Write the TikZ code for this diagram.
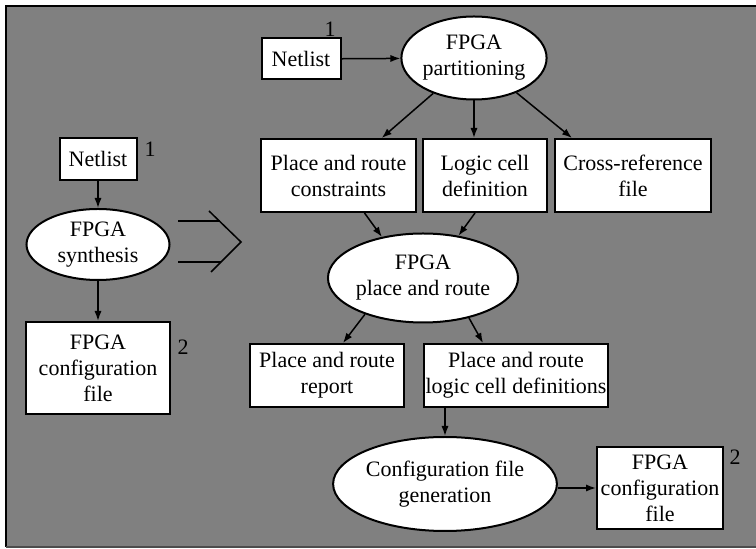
\documentclass[tikz,border=0pt]{standalone}
\usepackage{fontspec}
\setmainfont{Liberation Serif}
\usetikzlibrary{shapes.geometric,arrows.meta}
\definecolor{panel}{HTML}{808080}
\begin{document}
\begin{tikzpicture}[x=0.5pt,y=-0.5pt,
    every node/.style={font=\fontsize{11}{13}\selectfont, align=center, inner sep=0pt},
    filebox/.style={draw, line width=1pt, fill=white, rectangle},
    toolbox/.style={draw, line width=1pt, fill=white, ellipse},
    arr/.style={-{Latex[length=5pt,width=3.6pt]}, line width=0.75pt}]
    \useasboundingbox (0,0) rectangle (756,549);
    \fill[panel] (6,6) rectangle (756,547);
    \draw[line width=1pt] (756,6) -- (6,6) -- (6,547);
    \draw[line width=0.6pt, black!70] (6,547) -- (756,547);

    % flat flow
    \node [filebox, minimum width=38.5pt, minimum height=21pt] (net0) at (98,159) {Netlist};
    \node [toolbox, minimum width=71.5pt, minimum height=35.5pt] (syn) at (98,244.5) {FPGA\\synthesis};
    \node [filebox, minimum width=72pt, minimum height=46pt] (cfg0) at (98,368) {FPGA\\configuration\\file};
    \node (one0) at (150,149) {1};
    \node (two0) at (183,347) {2};
    \draw[arr] (net0) -- (syn);
    \draw[arr] (syn) -- (cfg0);

    % the open arrow between both flows
    \draw[line width=0.75pt] (178,221) -- (220,221);
    \draw[line width=0.75pt] (178,262) -- (221,262);
    \draw[line width=0.75pt] (209,211) -- (241,242) -- (211,272);

    % partitioned flow
    \node [filebox, minimum width=39.5pt, minimum height=20.5pt] (net1) at (301,59) {Netlist};
    \node (one1) at (330,29) {1};
    \node [toolbox, minimum width=72.5pt, minimum height=41.5pt] (part) at (474,58) {FPGA\\partitioning};
    \node [filebox, minimum width=77.5pt, minimum height=36.5pt] (prc) at (338.5,175.5) {Place and route\\constraints};
    \node [filebox, minimum width=62pt, minimum height=36.5pt] (lcd) at (485,175.5) {Logic cell\\definition};
    \node [filebox, minimum width=78pt, minimum height=36.5pt] (xref) at (633,175.5) {Cross-reference\\file};
    \node [toolbox, minimum width=85pt, minimum height=44.5pt] (par) at (423,278) {FPGA\\place and route};
    \node [filebox, minimum width=77pt, minimum height=31.5pt] (prr) at (327,375.5) {Place and route\\report};
    \node [filebox, minimum width=92pt, minimum height=31.5pt] (prl) at (516,375.5) {Place and route\\logic cell definitions};
    \node [toolbox, minimum width=93pt, minimum height=47pt] (gen) at (445,484) {Configuration file\\generation};
    \node [filebox, minimum width=63pt, minimum height=41pt] (cfg1) at (660,488) {FPGA\\configuration\\file};
    \node (two1) at (735,457) {2};

    \draw[arr] (net1) -- (part);
    \draw[arr] (part) -- (prc);
    \draw[arr] (part.south) -- (lcd.north -| part.south);
    \draw[arr] (part) -- ([xshift=9pt]xref.north west);
    \draw[arr] ([xshift=13pt]prc.south) -- (par.135);
    \draw[arr] ([xshift=-5pt]lcd.south) -- (par.50);
    \draw[arr] (par.212) -- ([xshift=8pt]prr.north);
    \draw[arr] (par.-41) -- ([xshift=-16.5pt]prl.north);
    \draw[arr] (prl.south -| gen.north) -- (gen.north);
    \draw[arr] (gen.east |- cfg1.west) -- (cfg1.west);
\end{tikzpicture}
\end{document}
